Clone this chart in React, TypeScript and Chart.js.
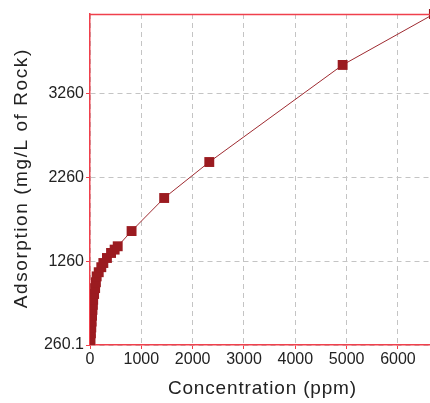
import React, { useEffect, useRef } from "react";
import { Chart, registerables } from "chart.js";

Chart.register(...registerables);

const concentration = [0, 10, 18, 25, 32, 40, 48, 55, 62, 80, 100, 115, 130, 170, 220, 260, 330, 410, 480, 540, 810, 1445, 2324, 4922, 6700];
const adsorption = [260.1, 330, 400, 470, 540, 610, 680, 740, 800, 870, 940, 1010, 1080, 1130, 1190, 1240, 1300, 1360, 1400, 1440, 1622, 2017, 2447, 3607, 4216];
const xTicks = [0, 1000, 2000, 3000, 4000, 5000, 6000];
const yTicks = [260.1, 1260, 2260, 3260];
const xTitle = "Concentration (ppm)";
const yTitle = "Adsorption (mg/L of Rock)";

const RED = "#f0404c";
const GRID = "#c4c4c4";
const MARK = "#9b1b20";
const TEXT = "#222222";
const TITLE_FONT = "19px 'Liberation Sans'";

function spacedText(ctx: any, text: string, target: number) {
  ctx.font = TITLE_FONT;
  ctx.letterSpacing = "0px";
  const w = ctx.measureText(text).width;
  const sp = (target - w) / text.length;
  ctx.letterSpacing = sp + "px";
  ctx.textAlign = "center";
  ctx.textBaseline = "middle";
  ctx.fillStyle = TEXT;
  ctx.fillText(text, sp / 2, 0);
  ctx.letterSpacing = "0px";
}

const frame = {
  id: "frame",
  afterDraw(chart: any) {
    const { ctx, chartArea } = chart;
    ctx.save();
    ctx.strokeStyle = RED;
    ctx.lineWidth = 1.5;
    ctx.beginPath();
    ctx.moveTo(chartArea.left, chartArea.top + 0.5);
    ctx.lineTo(chartArea.right, chartArea.top + 0.5);
    ctx.stroke();
    ctx.restore();

    ctx.save();
    ctx.translate(262, 389);
    spacedText(ctx, xTitle, 189);
    ctx.restore();

    ctx.save();
    ctx.translate(22, 179);
    ctx.rotate(-Math.PI / 2);
    spacedText(ctx, yTitle, 260);
    ctx.restore();
  },
};

export default function App() {
  const ref = useRef<HTMLCanvasElement | null>(null);
  useEffect(() => {
    document.body.style.margin = "0";
    const canvas = ref.current!;
    const chart = new Chart(canvas, {
      type: "line",
      data: {
        datasets: [
          {
            data: concentration.map((x, i) => ({ x, y: adsorption[i] })),
            borderColor: "#9e2a30",
            borderWidth: 1,
            backgroundColor: MARK,
            pointStyle: "rect",
            pointRadius: 7,
            pointBorderWidth: 0,
            pointBackgroundColor: MARK,
            tension: 0,
            fill: false,
            clip: { left: 0, bottom: 0, top: 10, right: 10 },
          },
        ],
      },
      options: {
        animation: false,
        responsive: false,
        devicePixelRatio: 1,
        layout: { autoPadding: false, padding: { top: 14, left: 0, right: 0, bottom: 0 } },
        plugins: { legend: { display: false }, tooltip: { enabled: false } },
        scales: {
          x: {
            type: "linear",
            min: 0,
            max: 6624,
            afterBuildTicks: (axis: any) => {
              axis.ticks = xTicks.map((v) => ({ value: v }));
            },
            afterFit: (scale: any) => {
              scale.height = 58;
            },
            ticks: {
              color: TEXT,
              font: { family: "Liberation Sans", size: 16 },
              padding: 1,
              maxRotation: 0,
              autoSkip: false,
              callback: (v: any) => String(v),
            },
            grid: {
              color: GRID,
              tickColor: RED,
              tickLength: 4,
              drawTicks: true,
            },
            border: { color: RED, width: 1.5, dash: [5, 4] },
            title: { display: false },
          },
          y: {
            type: "linear",
            min: 260.1,
            max: 4216,
            afterBuildTicks: (axis: any) => {
              axis.ticks = yTicks.map((v) => ({ value: v }));
            },
            afterFit: (scale: any) => {
              scale.width = 90;
            },
            ticks: {
              color: TEXT,
              font: { family: "Liberation Sans", size: 16 },
              padding: 2,
              autoSkip: false,
              callback: (v: any) => String(v),
            },
            grid: {
              color: GRID,
              tickColor: RED,
              tickLength: 4,
            },
            border: { color: RED, width: 1.5, dash: [5, 4] },
            title: { display: false },
          },
        },
      },
      plugins: [frame],
    });
    return () => chart.destroy();
  }, []);
  return (
    <div style={{ width: 430, height: 403, overflow: "hidden", position: "relative", background: "#fff" }}>
      <canvas ref={ref} width={430} height={403} style={{ display: "block", width: 430, height: 403 }} />
    </div>
  );
}
